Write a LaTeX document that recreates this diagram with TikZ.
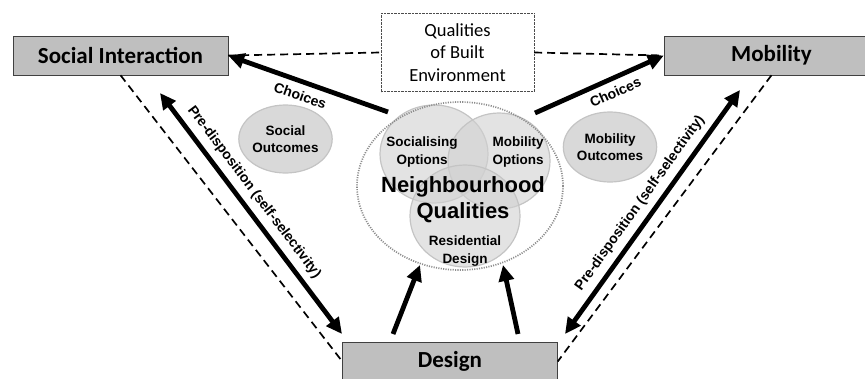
\documentclass[tikz,border=0pt]{standalone}
\usepackage{fontspec}
\setmainfont{Liberation Sans}
\newfontfamily\boxfont{Carlito}
\usetikzlibrary{arrows.meta,positioning,shapes.geometric}
\definecolor{boxgray}{HTML}{BFBFBF}
\definecolor{venngray}{HTML}{D1D1D1}
\definecolor{rimgray}{HTML}{C4C4C4}
\definecolor{outgray}{HTML}{D9D9D9}

\begin{document}
\begin{tikzpicture}[
  x=1pt, y=-1pt,
  >={Triangle[length=16pt, width=15pt]},
  mainbox/.style={draw=black!75, fill=boxgray, minimum width=215pt,
                  minimum height=39pt, inner sep=0pt,
                  font=\boxfont\bfseries\fontsize{23}{27}\selectfont},
  qualbox/.style={draw=black!70, densely dotted, minimum width=153pt,
                  minimum height=78pt, align=center, inner sep=0pt,
                  font=\boxfont\fontsize{18.5}{22.5}\selectfont},
  venn/.style={ellipse, draw=rimgray, line width=1.2pt, fill=venngray,
               fill opacity=0.6, inner sep=0pt},
  dotring/.style={ellipse, draw=black!45, line width=1.7pt,
                  dash pattern=on 1.1pt off 1.3pt, minimum width=206pt,
                  minimum height=168pt},
  outcome/.style={ellipse, draw=rimgray, line width=1.2pt, fill=outgray,
                  align=center, inner sep=0pt,
                  font=\bfseries\fontsize{13.5}{17}\selectfont},
  vtxt/.style={align=center, font=\bfseries\fontsize{13.5}{18}\selectfont},
  fat/.style={line width=4.8pt},
  dashline/.style={line width=1.7pt, dash pattern=on 8pt off 5pt},
  arrlbl/.style={sloped, font=\bfseries\fontsize{14}{16}\selectfont},
]
  \useasboundingbox (0,0) rectangle (865,378);

  %% Main boxes
  \node[mainbox] (soc) at (120.5,55.5) {Social Interaction};
  \node[mainbox] (mob) at (771.5,55.5) {Mobility};
  \node[mainbox] (des) at (450,361.5) {Design};
  \node[qualbox] (qbe) at (457.5,52.5) {Qualities\\of Built\\Environment};

  %% Dashed triangle
  \draw[dashline] (soc.east) -- (qbe.west);
  \draw[dashline] (qbe.east) -- (mob.west);
  \draw[dashline] (soc.south) -- (des.west);
  \draw[dashline] (mob.south) -- (des.east);

  %% Neighbourhood qualities
  \node[venn, minimum width=108pt, minimum height=98pt] (sopt) at (434,154) {};
  \node[venn, minimum width=102pt, minimum height=96pt] (mopt) at (499,161) {};
  \node[venn, minimum width=110pt, minimum height=102pt] (rdes) at (465,216) {};
  \node[dotring] (nq) at (460,186) {};
  \node[vtxt] (soptt) at (422,152) {Socialising\\Options};
  \node[vtxt] (moptt) at (518,152) {Mobility\\Options};
  \node[vtxt] (rdest) at (465,251) {Residential\\Design};
  \node[align=center, font=\bfseries\fontsize{22}{26}\selectfont] (nqt)
    at (463,200) {Neighbourhood\\Qualities};

  %% Outcomes
  \node[outcome, minimum width=85pt, minimum height=68pt] (socout)
    at (285.5,139) {Social\\Outcomes};
  \node[outcome, minimum width=78pt, minimum height=70pt] (mobout)
    at (610,147) {Mobility\\Outcomes};

  %% Arrow ends
  \coordinate (chl)  at (388,112);
  \coordinate (chr)  at (535,113);
  \coordinate (pdl1) at (160,93);
  \coordinate (pdl2) at (342,334);
  \coordinate (pdr1) at (565,334);
  \coordinate (pdr2) at (740,90);
  \coordinate (upl1) at (393,334);
  \coordinate (upl2) at (420,265);
  \coordinate (upr1) at (518,334);
  \coordinate (upr2) at (503,265);

  %% Arrows
  \draw[fat,<-] (soc.east) -- node[arrlbl, below=3pt, pos=0.48] {Choices} (chl);
  \draw[fat,->] (chr) -- node[arrlbl, below=3pt, pos=0.58] {Choices} (mob.west);
  \draw[fat,<->] (pdl1) -- node[arrlbl, above=3pt, pos=0.45]
    {Pre-disposition (self-selectivity)} (pdl2);
  \draw[fat,<->] (pdr1) -- node[arrlbl, above=3pt, pos=0.5]
    {Pre-disposition (self-selectivity)} (pdr2);
  \draw[fat,->] (upl1) -- (upl2);
  \draw[fat,->] (upr1) -- (upr2);
\end{tikzpicture}
\end{document}
